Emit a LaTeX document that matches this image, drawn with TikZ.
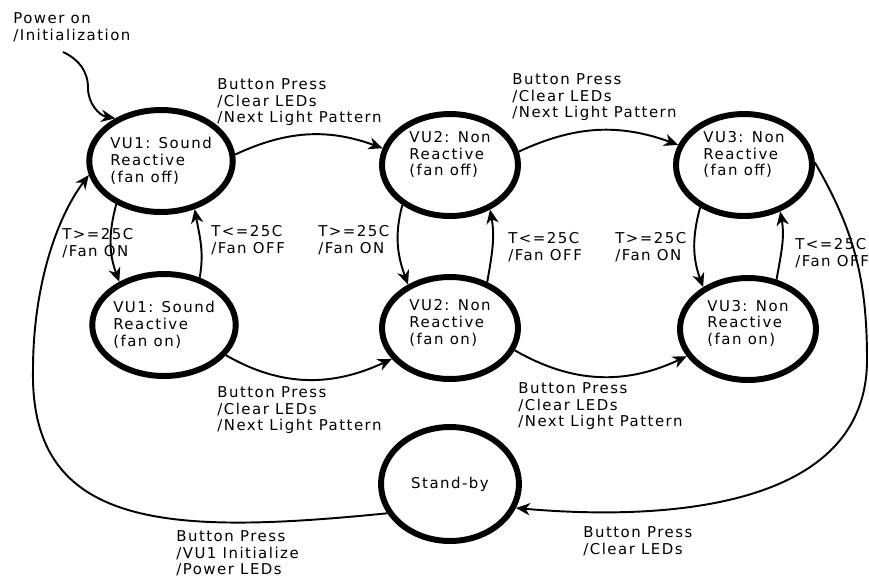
\documentclass[tikz,border=0pt]{standalone}
\usepackage{fontspec}
\setmainfont[LetterSpace=10]{DejaVu Sans}
\usetikzlibrary{shapes.geometric,arrows.meta}

\begin{document}
\begin{tikzpicture}[x=0.02cm,y=0.02cm,
    state/.style={draw,ellipse,line width=3.4pt,minimum width=2.72cm,minimum height=2.04cm,
        inner sep=0pt,align=left,font=\fontsize{8.5}{9.6}\selectfont},
    lab/.style={anchor=north west,inner sep=0pt,align=left,font=\fontsize{8.5}{9.6}\selectfont},
    trans/.style={line width=1.1pt,-{Stealth[length=8pt,width=7pt,inset=2.5pt]}}]
    \useasboundingbox (0,0) rectangle (869,-576);
    %% states
    \node[state] (v1off) at (161,-161) {VU1: Sound\\Reactive\\(fan off)};
    \node[state,text depth=13pt] (v2off) at (450,-165) {VU2: Non\\Reactive\\(fan off)};
    \node[state,text depth=13pt] (v3off) at (744,-165) {VU3: Non\\Reactive\\(fan off)};
    \node[state] (v1on) at (164,-325) {VU1: Sound\\Reactive\\(fan on)};
    \node[state,text depth=6.5pt] (v2on) at (450,-328) {VU2: Non\\Reactive\\(fan on)};
    \node[state,text depth=7.5pt] (v3on) at (748,-329) {VU3: Non\\Reactive\\(fan on)};
    \node[state,minimum width=2.76cm,minimum height=2.28cm] (standby) at (450,-484) {Stand-by};
    %% transition labels
    \node[lab] (lpwr) at (13,-12) {Power on\\/Initialization};
    \node[lab] (lbp1) at (217,-78) {Button Press\\/Clear LEDs\\/Next Light Pattern};
    \node[lab] (lbp2) at (512,-73) {Button Press\\/Clear LEDs\\/Next Light Pattern};
    \node[lab] (lbp3) at (217,-386) {Button Press\\/Clear LEDs\\/Next Light Pattern};
    \node[lab] (lbp4) at (518,-382) {Button Press\\/Clear LEDs\\/Next Light Pattern};
    \node[lab] (lup1) at (62,-228) {T>=25C\\/Fan ON};
    \node[lab] (ldn1) at (211,-225) {T<=25C\\/Fan OFF};
    \node[lab] (lup2) at (318,-225) {T>=25C\\/Fan ON};
    \node[lab] (ldn2) at (508,-232) {T<=25C\\/Fan OFF};
    \node[lab] (lup3) at (615,-232) {T>=25C\\/Fan ON};
    \node[lab] (ldn3) at (795,-238) {T<=25C\\/Fan OFF};
    \node[lab] (lsb1) at (176,-530) {Button Press\\/VU1 Initialize\\/Power LEDs};
    \node[lab] (lsb2) at (583,-526) {Button Press\\/Clear LEDs};
    %% transitions
    \coordinate (pwr) at (63,-52);
    \draw[trans] (pwr) to[out=-25,in=90] (88,-88) to[out=-90,in=170] (v1off.137);
    \draw[trans] (v1off.5) to[out=25,in=160] (v2off.166);
    \draw[trans] (v2off.11) to[out=25,in=160] (v3off.163);
    \draw[trans] (v1on.-26) to[out=-30,in=205] (v2on.208);
    \draw[trans] (v2on.-19) to[out=-30,in=205] (v3on.204);
    \draw[trans] (v1off.224) to[out=255,in=110] (v1on.136);
    \draw[trans] (v1on.53) to[out=80,in=-80] (v1off.-55);
    \draw[trans] (v2off.220) to[out=255,in=110] (v2on.134);
    \draw[trans] (v2on.51) to[out=80,in=-80] (v2off.-48);
    \draw[trans] (v3off.224) to[out=255,in=110] (v3on.137);
    \draw[trans] (v3on.60) to[out=80,in=-80] (v3off.-52);
    %% stand-by loop
    \coordinate (rbend) at (867,-360);
    \draw[trans] (v3off.2) to[out=-60,in=90] (rbend) to[out=-90,in=-5] (standby.-20);
    \coordinate (lbend) at (33,-370);
    \draw[trans] (standby.205) .. controls (170,-535) and (30,-530) .. (lbend)
        .. controls (33,-290) and (55,-220) .. (v1off.191);
\end{tikzpicture}
\end{document}
